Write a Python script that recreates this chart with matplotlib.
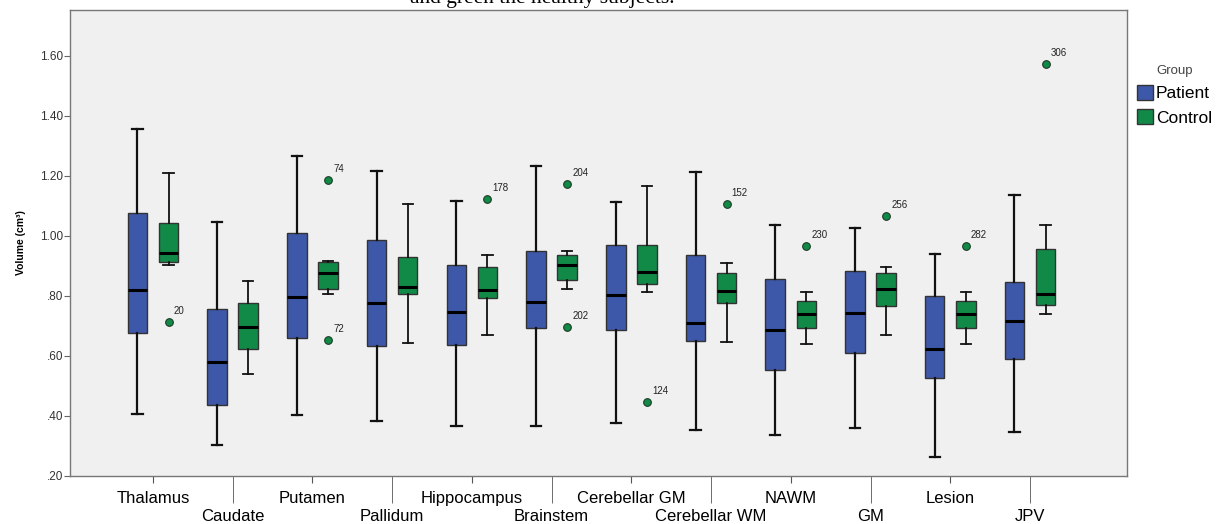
import matplotlib
matplotlib.use("Agg")
import matplotlib.pyplot as plt
from matplotlib.patches import Patch

# regions, in drawing order
regions = ["Thalamus", "Caudate", "Putamen", "Pallidum", "Hippocampus", "Brainstem",
           "Cerebellar GM", "Cerebellar WM", "NAWM", "GM", "Lesion", "JPV"]

# box statistics (cm^3)
pat_lo  = [0.407, 0.302, 0.403, 0.383, 0.366, 0.368, 0.377, 0.354, 0.337, 0.359, 0.264, 0.346]
pat_q1  = [0.678, 0.438, 0.659, 0.634, 0.638, 0.693, 0.688, 0.649, 0.553, 0.609, 0.526, 0.589]
pat_med = [0.821, 0.579, 0.798, 0.778, 0.747, 0.781, 0.802, 0.711, 0.687, 0.744, 0.623, 0.716]
pat_q3  = [1.078, 0.757, 1.011, 0.987, 0.903, 0.951, 0.971, 0.937, 0.856, 0.884, 0.801, 0.847]
pat_hi  = [1.356, 1.047, 1.268, 1.216, 1.118, 1.234, 1.112, 1.214, 1.037, 1.028, 0.940, 1.137]

con_lo  = [0.902, 0.541, 0.807, 0.644, 0.671, 0.822, 0.814, 0.646, 0.639, 0.669, 0.639, 0.741]
con_q1  = [0.913, 0.622, 0.822, 0.808, 0.792, 0.854, 0.839, 0.778, 0.693, 0.767, 0.693, 0.770]
con_med = [0.944, 0.697, 0.878, 0.830, 0.820, 0.902, 0.880, 0.818, 0.740, 0.824, 0.740, 0.807]
con_q3  = [1.042, 0.776, 0.913, 0.931, 0.896, 0.938, 0.969, 0.876, 0.783, 0.876, 0.783, 0.957]
con_hi  = [1.211, 0.850, 0.916, 1.107, 0.936, 0.949, 1.166, 0.910, 0.814, 0.898, 0.814, 1.038]

# control outliers: region index, value, case number
out_idx = [0, 2, 2, 4, 5, 5, 6, 7, 8, 9, 10, 11]
out_val = [0.713, 1.187, 0.653, 1.123, 1.173, 0.696, 0.446, 1.108, 0.967, 1.068, 0.967, 1.572]
out_lab = ["20", "74", "72", "178", "204", "202", "124", "152", "230", "256", "282", "306"]

blue = "#3d57a9"
green = "#128a47"

fig = plt.figure(figsize=(12.25, 5.24), dpi=100)
ax = fig.add_axes([70 / 1225, 48 / 524, 1057 / 1225, 466 / 524])
ax.set_facecolor("#f0f0f0")

# cut-off caption line from the page above the chart
fig.text(0.443, 1 - 2.5 / 524, "and green the healthy subjects.", family="Liberation Serif",
         fontsize=15.5, ha="center", va="baseline")


def stats(lo, q1, med, q3, hi):
    return [dict(whislo=a, q1=b, med=c, q3=d, whishi=e, fliers=[])
            for a, b, c, d, e in zip(lo, q1, med, q3, hi)]


off = 0.195
for st, shift, col, wlw in [(stats(pat_lo, pat_q1, pat_med, pat_q3, pat_hi), -off, blue, 1.6),
                            (stats(con_lo, con_q1, con_med, con_q3, con_hi), off, green, 1.3)]:
    ax.bxp(st, positions=[i + shift for i in range(len(regions))], widths=0.245,
           patch_artist=True, showfliers=False, capwidths=0.13,
           boxprops=dict(facecolor=col, edgecolor="#333333", linewidth=1.0),
           medianprops=dict(color="black", linewidth=2.2),
           whiskerprops=dict(color="#111111", linewidth=wlw),
           capprops=dict(color="#111111", linewidth=wlw))

ax.plot([i + off for i in out_idx], out_val, "o", ms=5.5, mfc=green, mec="#1a3a25",
        mew=0.8, ls="none", zorder=5)
for i, v, t in zip(out_idx, out_val, out_lab):
    ax.annotate(t, (i + off, v), xytext=(5, 11), textcoords="offset pixels",
                fontsize=7, family="Liberation Sans", color="#222222", va="center")

ax.set_xlim(-1.041, 12.217)
ax.set_ylim(0.20, 1.753)

yt = [0.2, 0.4, 0.6, 0.8, 1.0, 1.2, 1.4, 1.6]
ax.set_yticks(yt, [".20", ".40", ".60", ".80", "1.00", "1.20", "1.40", "1.60"])
ax.tick_params(axis="y", length=4, color="#666666", labelsize=8.5, labelcolor="#333333", pad=1)
for lab in ax.get_yticklabels():
    lab.set_family("Liberation Sans")

# staggered category labels: even ones high with short ticks, odd ones low with long ticks
ev = list(range(0, len(regions), 2))
od = list(range(1, len(regions), 2))
ax.set_xticks(ev, [regions[i] for i in ev])
ax.set_xticks(od, [regions[i] for i in od], minor=True)
ax.tick_params(axis="x", which="major", length=5, color="#555555", labelsize=12, pad=6)
ax.tick_params(axis="x", which="minor", length=19.5, color="#555555", labelsize=12, pad=4.5)
for lab in ax.get_xticklabels(which="both"):
    lab.set_family("Liberation Sans")

for s in ax.spines.values():
    s.set_color("#777777")
    s.set_linewidth(1.0)

ax.set_ylabel("Volume (cm³)", fontsize=7.5, fontweight="bold", family="Liberation Sans",
              labelpad=10)

handles = [Patch(facecolor=blue, edgecolor="#333333", label="Patient"),
           Patch(facecolor=green, edgecolor="#333333", label="Control")]
leg = ax.legend(handles=handles, title="Group", loc="upper left",
                bbox_to_anchor=(1137 / 1225, 1 - 65 / 524), bbox_transform=fig.transFigure,
                frameon=False, prop=dict(family="Liberation Sans", size=12.5),
                title_fontproperties=dict(family="Liberation Sans", size=9.5),
                handlelength=0.95, handleheight=0.95, handletextpad=0.15, labelspacing=0.45,
                borderaxespad=0, borderpad=0)
leg.get_title().set_color("#444444")

fig.savefig("out.png", dpi=100)
